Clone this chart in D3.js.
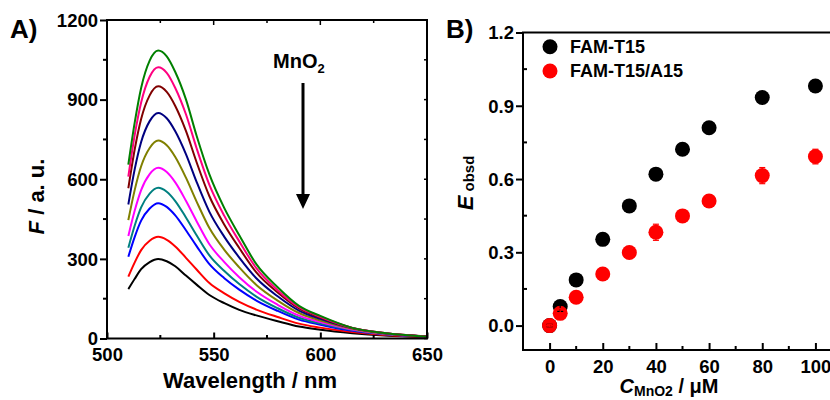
<!DOCTYPE html>
<html>
<head>
<meta charset="utf-8">
<script src="https://cdn.jsdelivr.net/npm/d3@7"></script>
<style>
  html, body { margin: 0; padding: 0; background: #fff; }
  svg { display: block; }
  text { font-family: "Liberation Sans", Arial, sans-serif; font-weight: bold; fill: #000; }
</style>
</head>
<body>
<svg id="chart" width="830" height="400"></svg>
<script>
// ---------------- Panel A data ----------------
const wavelengths = [510, 513, 516, 520, 524, 528, 532, 537, 542, 548, 555, 562, 570, 580, 590, 600, 615, 630, 650];
const spectrum1  = [186, 225, 261, 288, 300, 291, 272, 237, 203, 164, 133, 108, 87, 65, 45, 33, 20, 11, 5];
const spectrum2  = [233, 287, 333, 368, 383, 372, 347, 304, 260, 209, 170, 138, 109, 81, 56, 41, 24, 13, 6];
const spectrum3  = [308, 383, 444, 490, 510, 496, 464, 408, 348, 280, 227, 184, 143, 104, 71, 52, 29, 16, 7];
const spectrum4  = [342, 426, 494, 546, 568, 553, 518, 456, 389, 313, 254, 205, 158, 114, 78, 56, 32, 17, 8];
const spectrum5  = [386, 482, 559, 619, 643, 627, 588, 519, 442, 355, 288, 231, 177, 127, 86, 62, 34, 18, 8];
const spectrum6  = [446, 560, 649, 718, 746, 728, 684, 606, 516, 416, 334, 268, 202, 143, 96, 68, 37, 19, 8];
const spectrum7  = [505, 638, 740, 819, 850, 830, 781, 695, 590, 477, 383, 305, 227, 159, 105, 74, 39, 20, 8];
const spectrum8  = [566, 713, 827, 916, 950, 929, 876, 782, 664, 536, 429, 341, 249, 173, 113, 79, 40, 21, 8];
const spectrum9  = [610, 767, 889, 986, 1022, 1001, 944, 845, 717, 579, 462, 366, 265, 182, 118, 82, 40, 21, 7];
const spectrum10 = [655, 814, 944, 1047, 1085, 1063, 1004, 901, 764, 618, 491, 389, 280, 193, 123, 85, 40, 21, 7];
const spectra = [spectrum1, spectrum2, spectrum3, spectrum4, spectrum5, spectrum6, spectrum7, spectrum8, spectrum9, spectrum10];
const spectrumColors = ["#000000", "#ff0000", "#0000ff", "#008080", "#ff00ff", "#808000", "#000080", "#800000", "#ff0080", "#008000"];
const aXTicks = [500, 550, 600, 650];
const aXMinor = [525, 575, 625];
const aYTicks = [0, 300, 600, 900, 1200];
const aYMinor = [150, 450, 750, 1050];

// ---------------- Panel B data ----------------
const concentrations = [0, 4, 10, 20, 30, 40, 50, 60, 80, 100];
const eT15     = [0, 0.078, 0.187, 0.353, 0.49, 0.62, 0.722, 0.81, 0.934, 0.981];
const eT15Err  = [0.005, 0.02, 0.01, 0.01, 0.01, 0.01, 0.01, 0.01, 0.01, 0.01];
const eT15A15    = [0, 0.05, 0.116, 0.211, 0.299, 0.382, 0.449, 0.51, 0.614, 0.692];
const eT15A15Err = [0.005, 0.02, 0.01, 0.01, 0.01, 0.033, 0.01, 0.01, 0.033, 0.03];
const seriesNames = ["FAM-T15", "FAM-T15/A15"];
const seriesColors = ["#000000", "#ff0000"];
const bXTicks = [0, 20, 40, 60, 80, 100];
const bXMinor = [10, 30, 50, 70, 90];
const bYTicks = [0, 0.3, 0.6, 0.9, 1.2];
const bYMinor = [0.15, 0.45, 0.75, 1.05];

const svg = d3.select("#chart");
const TICKFONT = 18.5;

// ================= Panel A =================
const ax = d3.scaleLinear().domain([500, 650]).range([107, 427]);
const ay = d3.scaleLinear().domain([0, 1200]).range([338.5, 20]);
const gA = svg.append("g");

const line = d3.line()
  .x((d, i) => ax(wavelengths[i]))
  .y(d => ay(d))
  .curve(d3.curveMonotoneX);
spectra.forEach((s, k) => {
  gA.append("path").attr("d", line(s))
    .attr("fill", "none").attr("stroke", spectrumColors[k]).attr("stroke-width", 2);
});

function frame(g, x0, x1, y0, y1) {
  g.append("path")
    .attr("d", `M${x0},${y1}L${x0},${y0}L${x1},${y0}L${x1},${y1}Z`)
    .attr("fill", "none").attr("stroke", "#000").attr("stroke-width", 2);
}
frame(gA, ax.range()[0], ax.range()[1], ay.range()[1], ay.range()[0]);

// bottom axis (ticks inward)
const axB = d3.axisBottom(ax).tickValues(aXTicks).tickSize(-6).tickSizeOuter(0).tickPadding(17)
  .tickFormat(d3.format("d"));
const gAxB = gA.append("g").attr("transform", `translate(0,${ay(0)})`).call(axB);
gAxB.select(".domain").remove();
gAxB.selectAll("line").attr("stroke-width", 2);
gAxB.selectAll("text").attr("font-size", TICKFONT).attr("dy", "0.3em");
aXMinor.forEach(v => {
  gA.append("line").attr("x1", ax(v)).attr("x2", ax(v)).attr("y1", ay(0)).attr("y2", ay(0) - 3.5)
    .attr("stroke", "#000").attr("stroke-width", 2);
});
aXTicks.concat(aXMinor).forEach(v => {
  const len = aXTicks.includes(v) ? 5 : 3;
  gA.append("line").attr("x1", ax(v)).attr("x2", ax(v)).attr("y1", ay(1200)).attr("y2", ay(1200) + len)
    .attr("stroke", "#000").attr("stroke-width", 1.5);
});

// left axis (ticks outward)
const axL = d3.axisLeft(ay).tickValues(aYTicks).tickSize(7).tickSizeOuter(0).tickPadding(2)
  .tickFormat(d3.format("d"));
const gAxL = gA.append("g").attr("transform", `translate(${ax(500)},0)`).call(axL);
gAxL.select(".domain").remove();
gAxL.selectAll("line").attr("stroke-width", 2);
gAxL.selectAll("text").attr("font-size", TICKFONT).attr("dy", "0.34em");
aYMinor.forEach(v => {
  gA.append("line").attr("x1", ax(500) - 4).attr("x2", ax(500)).attr("y1", ay(v)).attr("y2", ay(v))
    .attr("stroke", "#000").attr("stroke-width", 2);
});
aYTicks.concat(aYMinor).forEach(v => {
  gA.append("line").attr("x1", ax(650)).attr("x2", ax(650) - 3).attr("y1", ay(v)).attr("y2", ay(v))
    .attr("stroke", "#000").attr("stroke-width", 1.5);
});

// labels
gA.append("text").attr("x", 10).attr("y", 38).attr("font-size", 26).text("A)");
const fLab = gA.append("text").attr("transform", "translate(43.5,196.5) rotate(-90)")
  .attr("text-anchor", "middle").attr("font-size", 22);
fLab.append("tspan").attr("font-style", "italic").text("F");
fLab.append("tspan").text(" / a. u.");
gA.append("text").attr("x", 250).attr("y", 388).attr("text-anchor", "middle").attr("font-size", 22)
  .text("Wavelength / nm");

const mn = gA.append("text").attr("x", 273).attr("y", 68).attr("font-size", 20);
mn.append("tspan").text("MnO");
mn.append("tspan").attr("font-size", 13).attr("dy", 5).text("2");
gA.append("line").attr("x1", 303).attr("x2", 303).attr("y1", 83).attr("y2", 197)
  .attr("stroke", "#000").attr("stroke-width", 3);
gA.append("path").attr("d", "M296,194L310,194L303,209Z").attr("fill", "#000");

// ================= Panel B =================
const bx = d3.scaleLinear().domain([-10, 110]).range([523, 842]);
const by = d3.scaleLinear().domain([-0.1, 1.2]).range([350, 32.5]);
const gB = svg.append("g");

frame(gB, bx.range()[0], bx.range()[1], by.range()[1], by.range()[0]);

const bxAxis = d3.axisBottom(bx).tickValues(bXTicks).tickSize(-7).tickSizeOuter(0).tickPadding(17);
const gBxA = gB.append("g").attr("transform", `translate(0,${by(-0.1)})`).call(bxAxis);
gBxA.select(".domain").remove();
gBxA.selectAll("line").attr("stroke-width", 2);
gBxA.selectAll("text").attr("font-size", TICKFONT).attr("dy", "0.3em");
bXMinor.forEach(v => {
  gB.append("line").attr("x1", bx(v)).attr("x2", bx(v)).attr("y1", by(-0.1)).attr("y2", by(-0.1) - 4)
    .attr("stroke", "#000").attr("stroke-width", 2);
});

const byAxis = d3.axisLeft(by).tickValues(bYTicks).tickSize(7).tickSizeOuter(0).tickPadding(2)
  .tickFormat(d3.format(".1f"));
const gByA = gB.append("g").attr("transform", `translate(${bx(-10)},0)`).call(byAxis);
gByA.select(".domain").remove();
gByA.selectAll("line").attr("stroke-width", 2);
gByA.selectAll("text").attr("font-size", TICKFONT).attr("dy", "0.34em");
bYMinor.forEach(v => {
  gB.append("line").attr("x1", bx(-10)).attr("x2", bx(-10) + 4).attr("y1", by(v)).attr("y2", by(v))
    .attr("stroke", "#000").attr("stroke-width", 2);
});

const bSeries = [
  { vals: eT15, err: eT15Err },
  { vals: eT15A15, err: eT15A15Err }
];
bSeries.forEach((s, k) => {
  gB.append("g").selectAll("circle").data(s.vals).join("circle")
    .attr("cx", (d, i) => bx(concentrations[i]))
    .attr("cy", d => by(d))
    .attr("r", 7.5)
    .attr("fill", seriesColors[k]);
});
bSeries.forEach((s, k) => {
  const g = gB.append("g").attr("stroke", seriesColors[k]).attr("stroke-width", 1.2);
  s.vals.forEach((v, i) => {
    const x = bx(concentrations[i]);
    const y0 = by(v - s.err[i]), y1 = by(v + s.err[i]);
    g.append("line").attr("x1", x).attr("x2", x).attr("y1", y0).attr("y2", y1);
    g.append("line").attr("x1", x - 3).attr("x2", x + 3).attr("y1", y0).attr("y2", y0);
    g.append("line").attr("x1", x - 3).attr("x2", x + 3).attr("y1", y1).attr("y2", y1);
  });
});

seriesNames.forEach((name, k) => {
  const cy = 46.7 + k * 24.3;
  gB.append("circle").attr("cx", 550).attr("cy", cy).attr("r", 7.5).attr("fill", seriesColors[k]);
  gB.append("text").attr("x", 570).attr("y", cy + 6.3).attr("font-size", 18).text(name);
});

gB.append("text").attr("x", 446).attr("y", 37.5).attr("font-size", 26).text("B)");
const eLab = gB.append("text").attr("transform", "translate(473,183) rotate(-90)")
  .attr("text-anchor", "middle").attr("font-size", 22);
eLab.append("tspan").attr("font-style", "italic").text("E");
eLab.append("tspan").attr("font-size", 15).attr("dy", 1).text(" obsd");
const cLab = gB.append("text").attr("x", 669).attr("y", 393).attr("text-anchor", "middle").attr("font-size", 20);
cLab.append("tspan").attr("font-style", "italic").text("C");
cLab.append("tspan").attr("font-size", 14).attr("dy", 3).text("MnO2");
cLab.append("tspan").attr("dy", -3).text(" / μM");
</script>
</body>
</html>
